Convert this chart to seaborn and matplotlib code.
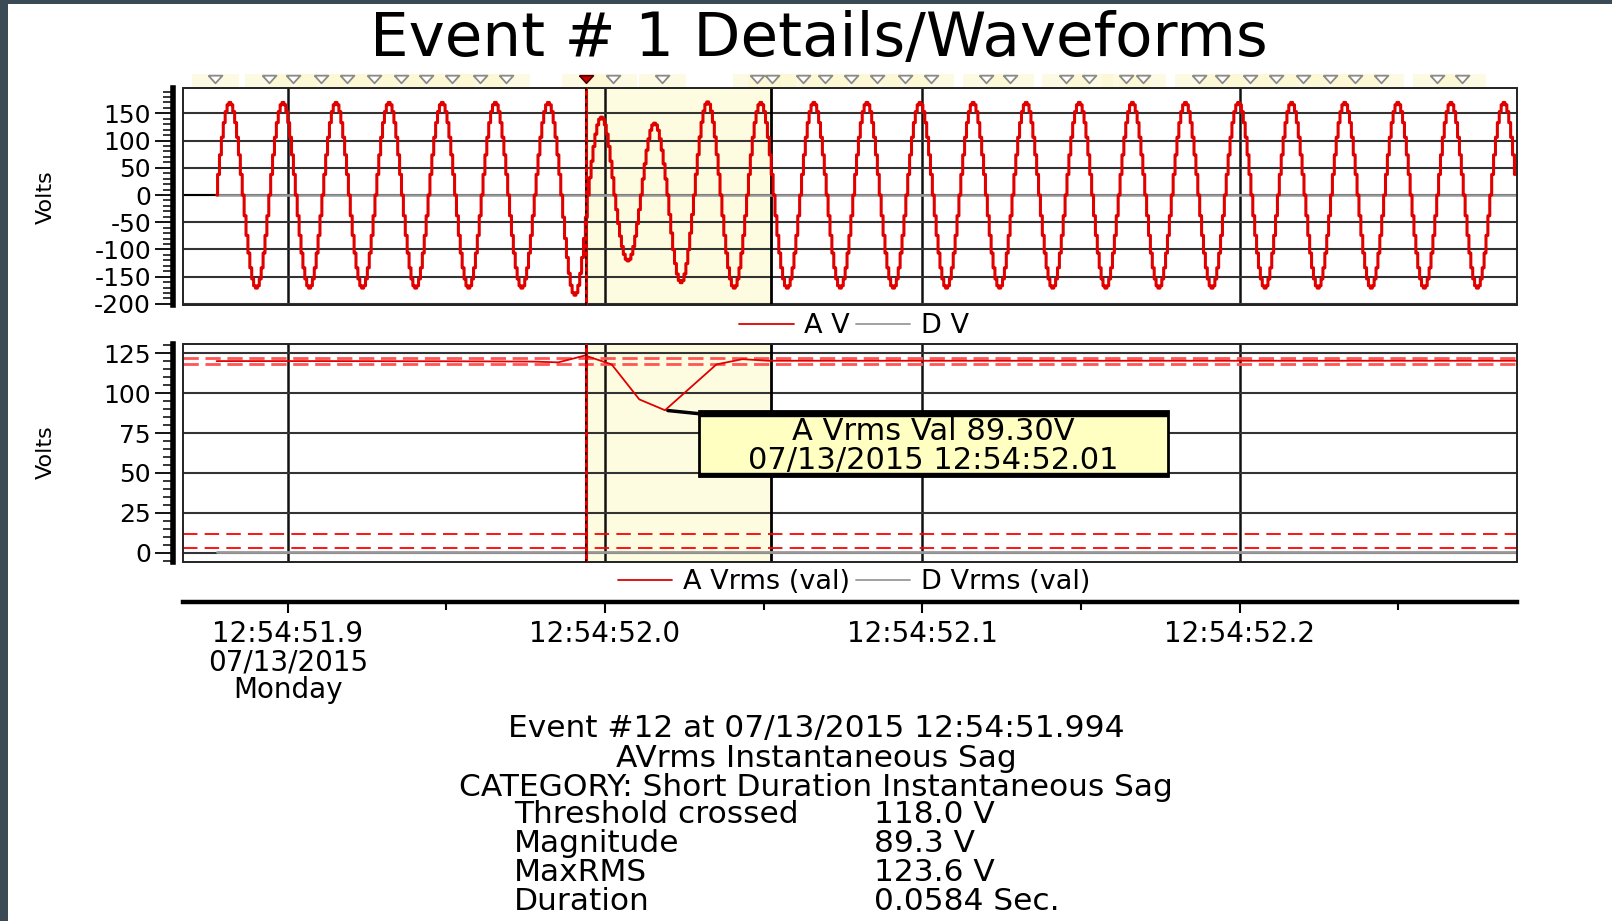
import numpy as np
import pandas as pd
import matplotlib
matplotlib.use("Agg")
import matplotlib.pyplot as plt
import matplotlib.transforms as mtransforms
from matplotlib.patches import Rectangle
from matplotlib.lines import Line2D
from matplotlib.path import Path
from matplotlib.ticker import MultipleLocator
import seaborn as sns

# time values are seconds after 12:54:51 (07/13/2015)
x_min, x_max = 51.867, 52.2874
grid_times = [51.9, 52.0, 52.1, 52.2]
minor_times = [51.95, 52.05, 52.15, 52.25]
time_labels = ["12:54:51.9\n07/13/2015\nMonday", "12:54:52.0", "12:54:52.1", "12:54:52.2"]

event_start = 51.994
event_end = 52.0524

# A V waveform: signed peak of every half cycle
wave_start = 51.8776
wave_end = 52.2874
cycle_period = 0.01673
half_cycle_peaks = [170, -171, 170, -171, 170, -171, 170, -171, 170, -171,
                    170, -171, 170, -184, 143, -121, 132, -161, 171, -171,
                    170, -171, 170, -171, 170, -171, 170, -171, 170, -171,
                    170, -171, 170, -171, 170, -171, 170, -171, 170, -171,
                    170, -171, 170, -171, 170, -171, 170, -171, 170, -171]

# A Vrms (val)
rms_times = [51.8776, 51.9100, 51.9500, 51.9770, 51.9853, 51.9937, 52.0021,
             52.0108, 52.0189, 52.0351, 52.0433, 52.0514, 52.1500, 52.2872]
rms_values = [120.1, 120.1, 120.0, 119.8, 119.3, 123.6, 118.0,
              96.1, 89.3, 118.0, 121.3, 120.3, 120.3, 120.3]

upper_limits = [121.8, 118.0]
lower_limits = [11.7, 2.8]

# event markers along the top strip
marker_times = [51.8772, 51.8940, 51.9018, 51.9105, 51.9187, 51.9271, 51.9358,
                51.9437, 51.9518, 51.9605, 51.9689, 52.0026, 52.0181, 52.0479,
                52.0526, 52.0623, 52.0692, 52.0774, 52.0858, 52.0945, 52.1026,
                52.1202, 52.1277, 52.1452, 52.1526, 52.1642, 52.1694, 52.1871,
                52.1945, 52.2031, 52.2113, 52.2200, 52.2284, 52.2363, 52.2444,
                52.2621, 52.2700]

info_lines = ["Event #12 at 07/13/2015 12:54:51.994",
              "AVrms Instantaneous Sag",
              "CATEGORY: Short Duration Instantaneous Sag"]
info_names = ["Threshold crossed", "Magnitude", "MaxRMS", "Duration"]
info_values = ["118.0 V", "89.3 V", "123.6 V", "0.0584 Sec."]

# build the sampled waveform from the half cycle peaks
samples_half = 14
half = cycle_period / 2
wave_t, wave_v = [], []
for k, pk in enumerate(half_cycle_peaks):
    for j in range(samples_half):
        ph = j / samples_half
        t = wave_start + (k + ph) * half
        if t > wave_end:
            break
        wave_t.append(t)
        wave_v.append(pk * np.sin(np.pi * ph))
df_wave = pd.DataFrame({"t": wave_t, "v": wave_v})
df_rms = pd.DataFrame({"t": rms_times, "v": rms_values})

sns.set_theme(style="white")
plt.rcParams["font.family"] = ["DejaVu Sans"]
plt.rcParams["text.color"] = "black"
plt.rcParams["xtick.color"] = "black"
plt.rcParams["ytick.color"] = "black"
plt.rcParams["axes.unicode_minus"] = False

W, H = 1612, 921
fig = plt.figure(figsize=(W / 100, H / 100), dpi=100)
fig.patch.set_facecolor("white")

ax_w = (1517 - 183) / W
ax1 = fig.add_axes([183 / W, 1 - 305 / H, ax_w, (305 - 88.3) / H])
ax2 = fig.add_axes([183 / W, 1 - 561.7 / H, ax_w, (561.7 - 344) / H])
ax3 = fig.add_axes([183 / W, 1 - 602 / H, ax_w, 0.0005])


def style_panel(ax, ylim, major, minor):
    ax.set_xlim(x_min, x_max)
    ax.set_ylim(*ylim)
    ax.axvspan(event_start, event_end, color="#fefce0", zorder=0, lw=0)
    ax.set_xticks(grid_times)
    ax.tick_params(axis="x", length=0, labelbottom=False)
    ax.xaxis.grid(True, color="#111111", lw=1.8)
    ax.yaxis.grid(True, color="#333333", lw=1.5)
    ax.set_yticks(major)
    ax.yaxis.set_minor_locator(MultipleLocator(minor))
    ax.tick_params(axis="y", which="major", left=True, length=13, width=1.3,
                   labelsize=18, pad=3, color="black", labelcolor="black")
    ax.tick_params(axis="y", which="minor", left=True, length=7, width=1.1, color="black")
    for s in ["top", "right", "bottom"]:
        ax.spines[s].set_visible(False)
    ax.spines["left"].set_position(("outward", 7))
    ax.spines["left"].set_linewidth(4)
    ax.spines["left"].set_color("black")
    ax.add_patch(Rectangle((0, 0), 1, 1, transform=ax.transAxes, fill=False,
                           ec="#222222", lw=1.4, clip_on=False, zorder=5))
    ax.axvline(event_end, color="black", lw=2, zorder=3)
    ax.axvline(event_start, color="#e00000", lw=2.2, zorder=6)
    ax.axvline(event_start, color="black", lw=1.1, ls=(0, (2, 3)), zorder=7)


style_panel(ax1, (-202, 196), list(range(-200, 151, 50)), 10)
style_panel(ax2, (-5.6, 130.8), list(range(0, 126, 25)), 5)

# top panel: A V and D V
ax1.plot([x_min, wave_start], [0, 0], color="black", lw=1.5, zorder=2)
sns.lineplot(x=[wave_start, wave_end], y=[0, 0], ax=ax1, color="#999999", lw=1.8, zorder=3)
sns.lineplot(data=df_wave, x="t", y="v", ax=ax1, color="#e00000", lw=2.2,
             drawstyle="steps-mid", estimator=None, sort=False, zorder=4)
ax1.set_xlabel("")
ax1.set_ylabel("")

# marker strip above the top panel
strip = mtransforms.blended_transform_factory(ax1.transData, ax1.transAxes)
for t in marker_times + [event_start]:
    ax1.add_patch(Rectangle((t - 0.0075, 1.008), 0.015, 0.058, transform=strip,
                            color="#fbf6c4", alpha=0.45, lw=0, clip_on=False))
tri = Path([(-1, 0.55), (1, 0.55), (0, -0.55), (-1, 0.55)])
ax1.plot(marker_times, [1.043] * len(marker_times), transform=strip, ls="none",
         marker=tri, ms=10, mfc="white", mec="#8a8a8a", mew=1.3, clip_on=False)
ax1.plot([event_start], [1.043], transform=strip, ls="none", marker=tri, ms=10,
         mfc="#d00000", mec="#500000", mew=1.2, clip_on=False)

# bottom panel: A Vrms and limits
for v in upper_limits:
    ax2.axhline(v, color="#ff5555", lw=2, ls=(0, (5.5, 2.4)), zorder=3)
for v in lower_limits:
    ax2.axhline(v, color="#ff0000", lw=1.3, ls=(0, (8, 4)), zorder=3)
sns.lineplot(x=[wave_start, wave_end], y=[0.4, 0.4], ax=ax2, color="#999999", lw=2, zorder=3)
sns.lineplot(data=df_rms, x="t", y="v", ax=ax2, color="#e00000", lw=1.3,
             estimator=None, sort=False, zorder=4)
ax2.set_xlabel("")
ax2.set_ylabel("")

# tooltip for the minimum
i_min = int(np.argmin(rms_values))
bx0, by0, bx1, by1 = 699 / W, 1 - 476 / H, 1168 / W, 1 - 411 / H
ax2.annotate("", xy=(rms_times[i_min], rms_values[i_min]), xycoords="data",
             xytext=(bx0 + 0.006, by1 - 0.004), textcoords="figure fraction",
             arrowprops=dict(arrowstyle="-", color="black", lw=2.5))
fig.add_artist(Rectangle((bx0, by0), bx1 - bx0, by1 - by0, transform=fig.transFigure,
                         fc="#ffffc2", ec="black", lw=2, zorder=10))
fig.add_artist(Rectangle((bx0, by1 - 5 / H), bx1 - bx0, 5 / H, transform=fig.transFigure,
                         fc="black", ec="black", lw=1, zorder=11))
fig.add_artist(Rectangle((bx0, by0), bx1 - bx0, 3 / H, transform=fig.transFigure,
                         fc="black", ec="black", lw=1, zorder=11))
tip = f"A Vrms Val {rms_values[i_min]:.2f}V\n07/13/2015 12:54:52.01"
fig.text((bx0 + bx1) / 2, 1 - 446 / H, tip, ha="center", va="center",
         fontsize=22, linespacing=1.0, zorder=12)

# legends
leg_kw = dict(loc="center", ncol=2, frameon=False, fontsize=19.5, handlelength=2.0,
              handletextpad=0.4, columnspacing=0.2, borderpad=0.1)
fig.legend([Line2D([], [], color="#e00000", lw=1.3), Line2D([], [], color="#999999", lw=1.3)],
           ["A V", "D V"], bbox_to_anchor=(854 / W, 1 - 326 / H), **leg_kw)
fig.legend([Line2D([], [], color="#e00000", lw=1.3), Line2D([], [], color="#999999", lw=1.3)],
           ["A Vrms (val)", "D Vrms (val)"], bbox_to_anchor=(854 / W, 1 - 582 / H), **leg_kw)

# y labels
fig.text(46 / W, 1 - 197 / H, "Volts", rotation=90, ha="center", va="center", fontsize=16)
fig.text(46 / W, 1 - 452 / H, "Volts", rotation=90, ha="center", va="center", fontsize=16)

# shared time axis
ax3.set_xlim(x_min, x_max)
ax3.patch.set_visible(False)
for s in ["top", "right", "left"]:
    ax3.spines[s].set_visible(False)
ax3.spines["bottom"].set_linewidth(3.2)
ax3.spines["bottom"].set_color("black")
ax3.set_yticks([])
ax3.set_xticks(grid_times)
ax3.set_xticklabels(time_labels, linespacing=1.0)
ax3.set_xticks(minor_times, minor=True)
ax3.tick_params(axis="x", which="major", bottom=True, direction="out", length=8,
                width=1.5, labelsize=20, pad=5, color="black", labelcolor="black")
ax3.tick_params(axis="x", which="minor", bottom=True, direction="out", length=6,
                width=1.5, color="black")

# title and event details
fig.text(819 / W, 1 - 39 / H, "Event # 1 Details/Waveforms", ha="center", va="center",
         fontsize=44)
fig.text(816 / W, 1 - 758 / H, "\n".join(info_lines), ha="center", va="center",
         fontsize=22.5, linespacing=1.01)
fig.text(514 / W, 1 - 858 / H, "\n".join(info_names), ha="left", va="center",
         fontsize=22.5, linespacing=1.01)
fig.text(874 / W, 1 - 858 / H, "\n".join(info_values), ha="left", va="center",
         fontsize=22.5, linespacing=1.01)

# dark frame of the screenshot
fig.add_artist(Rectangle((0, 0), 8 / W, 1, transform=fig.transFigure, color="#3a4b56", lw=0))
fig.add_artist(Rectangle((0, 1 - 4 / H), 1, 4 / H, transform=fig.transFigure, color="#3a4b56", lw=0))

fig.savefig("out.png", dpi=100)
